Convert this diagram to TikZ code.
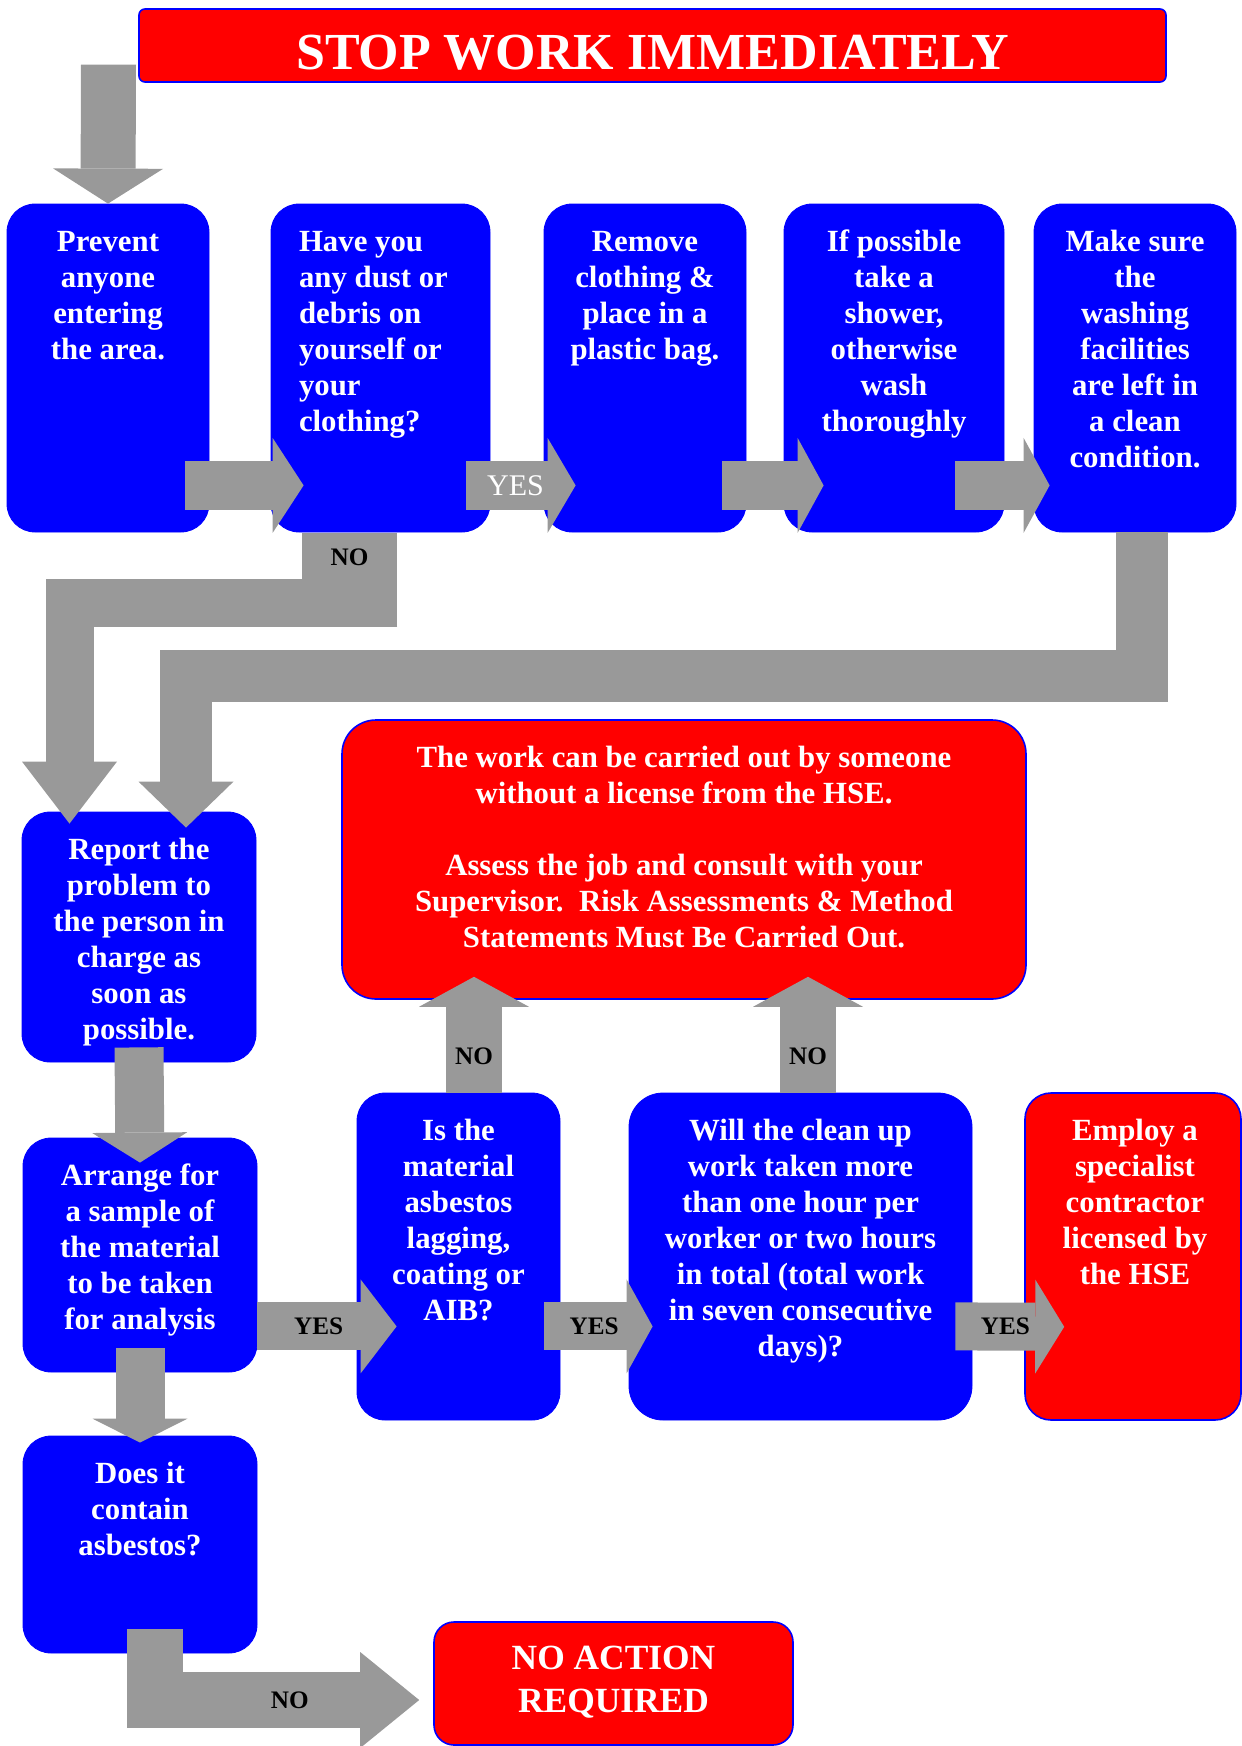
\documentclass[tikz,border=0pt]{standalone}
\usepackage{fontspec}
\setmainfont{Liberation Serif}
\usetikzlibrary{arrows.meta, positioning}
\definecolor{arrowgrey}{RGB}{153,153,153}

\begin{document}
\begin{tikzpicture}[x=0.5pt, y=-0.5pt,
        bluebox/.style={fill=blue, draw=blue, rounded corners=14pt, inner sep=0pt},
        redbox/.style={fill=red, draw=blue, line width=0.8pt, inner sep=0pt},
        boxtext/.style={text=white, font=\bfseries\fontsize{15.4}{18}\selectfont, align=center, inner sep=0pt, anchor=base},
        garrow/.style n args={3}{draw=arrowgrey, line width=#1, -{Triangle[width=#2, length=#3, line width=0pt]}},
        greyblock/.style={fill=arrowgrey, inner sep=0pt},
        answer/.style={font=\bfseries\fontsize{12.6}{14}\selectfont, inner sep=0pt}]
    \useasboundingbox (0,0) rectangle (1242,1746);

    % boxes
    \node[redbox, rounded corners=3pt, minimum width=513.5pt, minimum height=36.5pt] (stop) at (652.5,45.5) {};
    \node[bluebox, minimum width=101pt, minimum height=164pt] (prevent) at (108,368) {};
    \node[bluebox, minimum width=109.5pt, minimum height=164pt] (dust) at (380.5,368) {};
    \node[bluebox, minimum width=101pt, minimum height=164pt] (remove) at (645,368) {};
    \node[bluebox, minimum width=110pt, minimum height=164pt] (shower) at (894,368) {};
    \node[bluebox, minimum width=101pt, minimum height=164pt] (facilities) at (1135,368) {};
    \node[redbox, rounded corners=17pt, minimum width=342pt, minimum height=139.5pt] (nolicence) at (684,859.5) {};
    \node[bluebox, minimum width=117pt, minimum height=125pt] (report) at (139,937) {};
    \node[bluebox, minimum width=117pt, minimum height=117pt] (sample) at (140,1255) {};
    \node[bluebox, minimum width=117pt, minimum height=108.5pt] (contain) at (140,1544.5) {};
    \node[bluebox, minimum width=101.5pt, minimum height=163.5pt] (lagging) at (458.5,1256.5) {};
    \node[bluebox, rounded corners=17pt, minimum width=171.5pt, minimum height=163.5pt] (hours) at (800.5,1256.5) {};
    \node[redbox, rounded corners=13pt, minimum width=108pt, minimum height=163.5pt] (employ) at (1133,1256.5) {};
    \node[redbox, rounded corners=10pt, minimum width=179.5pt, minimum height=61.5pt] (noaction) at (613.5,1683.5) {};

    % arrows
    \draw[garrow={27.5pt}{55pt}{17.5pt}] ([shift={(0.5,-139)}]prevent.north) -- (prevent.north);
    \draw[garrow={24.5pt}{47.5pt}{15.5pt}] ([shift={(-24,-47)}]prevent.south east) -- ([shift={(33,-47)}]dust.south west);
    \draw[garrow={24.5pt}{47.5pt}{14pt}] ([shift={(-24,-47)}]dust.south east) -- node[pos=0.45, text=white, font=\fontsize{15}{18}\selectfont, inner sep=0pt] {YES} ([shift={(32,-47)}]remove.south west);
    \draw[garrow={24.5pt}{47.5pt}{13pt}] ([shift={(-24,-47)}]remove.south east) -- ([shift={(40,-47)}]shower.south west);
    \draw[garrow={24.5pt}{47.5pt}{13pt}] ([shift={(-49,-47)}]shower.south east) -- ([shift={(16,-47)}]facilities.south west);

    \node[greyblock, answer, minimum width=47.5pt, minimum height=24pt, anchor=north] (noblock) at ([shift={(-31,0)}]dust.south) {NO};
    \draw[garrow={24pt}{47.5pt}{31pt}] ([shift={(0,22)}]noblock.south east) -| ([shift={(-69.5,12)}]report.north);
    \draw[garrow={26pt}{47.5pt}{23pt}] ([shift={(6.5,0)}]facilities.south) -- ++(0,144) -| ([shift={(47,16)}]report.north);

    \draw[garrow={24.5pt}{47.5pt}{15pt}] ([shift={(0,-15)}]report.south) -- ([shift={(0,25)}]sample.north);
    \draw[garrow={24.5pt}{47.5pt}{12pt}] ([shift={(0,-24)}]sample.south) -- ([shift={(0,7)}]contain.north);
    \draw[garrow={28pt}{48pt}{29.5pt}] ([shift={(15,-24)}]contain.south) |- node[pos=0.755, answer] {NO} ([shift={(-14,16.5)}]noaction.west);

    \draw[garrow={24pt}{47pt}{18pt}] ([shift={(0,-46)}]sample.south east) -- node[pos=0.44, answer] {YES} ([shift={(40,-94)}]lagging.south west);
    \draw[garrow={24pt}{47pt}{13pt}] ([shift={(-16,-94)}]lagging.south east) -- node[pos=0.46, answer] {YES} ([shift={(24,-94)}]hours.south west);
    \draw[garrow={24pt}{47pt}{14.5pt}] ([shift={(-17,-94)}]hours.south east) -- node[pos=0.46, answer] {YES} ([shift={(40,-94)}]employ.south west);

    \draw[garrow={28pt}{55pt}{15pt}] ([shift={(15.5,0)}]lagging.north) -- node[pos=0.31, answer] {NO} ([shift={(-210,-23)}]nolicence.south);
    \draw[garrow={28pt}{55pt}{15pt}] ([shift={(7.5,0)}]hours.north) -- node[pos=0.31, answer] {NO} ([shift={(124,-23)}]nolicence.south);

    % texts (base = last line)
    \node[boxtext, font=\bfseries\fontsize{26}{30}\selectfont] (stoptext) at ([shift={(0,61)}]stop.north) {STOP WORK IMMEDIATELY};
    \node[boxtext] (preventtext) at ([shift={(0,156)}]prevent.north) {Prevent\\anyone\\entering\\the area.};
    \node[boxtext, align=left, anchor=base west] (dusttext) at ([shift={(28,228)}]dust.north west) {Have you\\any dust or\\debris on\\yourself or\\your\\clothing?};
    \node[boxtext] (removetext) at ([shift={(0,156)}]remove.north) {Remove\\clothing \&\\place in a\\plastic bag.};
    \node[boxtext] (showertext) at ([shift={(0,228)}]shower.north) {If possible\\take a\\shower,\\otherwise\\wash\\thoroughly};
    \node[boxtext] (facilitiestext) at ([shift={(0,264)}]facilities.north) {Make sure\\the\\washing\\facilities\\are left in\\a clean\\condition.};
    \node[boxtext] (nolicencetext) at ([shift={(0,228)}]nolicence.north) {The work can be carried out by someone\\without a license from the HSE.\\[18pt]Assess the job and consult with your\\Supervisor.\ \ Risk Assessments \& Method\\Statements Must Be Carried Out.};
    \node[boxtext] (reporttext) at ([shift={(0,228)}]report.north) {Report the\\problem to\\the person in\\charge as\\soon as\\possible.};
    \node[boxtext] (sampletext) at ([shift={(0,192)}]sample.north) {Arrange for\\a sample of\\the material\\to be taken\\for analysis};
    \node[boxtext] (containtext) at ([shift={(0,120)}]contain.north) {Does it\\contain\\asbestos?};
    \node[boxtext] (laggingtext) at ([shift={(0,228)}]lagging.north) {Is the\\material\\asbestos\\lagging,\\coating or\\AIB?};
    \node[boxtext] (hourstext) at ([shift={(0,264)}]hours.north) {Will the clean up\\work taken more\\than one hour per\\worker or two hours\\in total (total work\\in seven consecutive\\days)?};
    \node[boxtext] (employtext) at ([shift={(2,192)}]employ.north) {Employ a\\specialist\\contractor\\licensed by\\the HSE};
    \node[boxtext, font=\bfseries\fontsize{17.7}{21.6}\selectfont] (noactiontext) at ([shift={(0,91)}]noaction.north) {NO ACTION\\REQUIRED};
\end{tikzpicture}
\end{document}
